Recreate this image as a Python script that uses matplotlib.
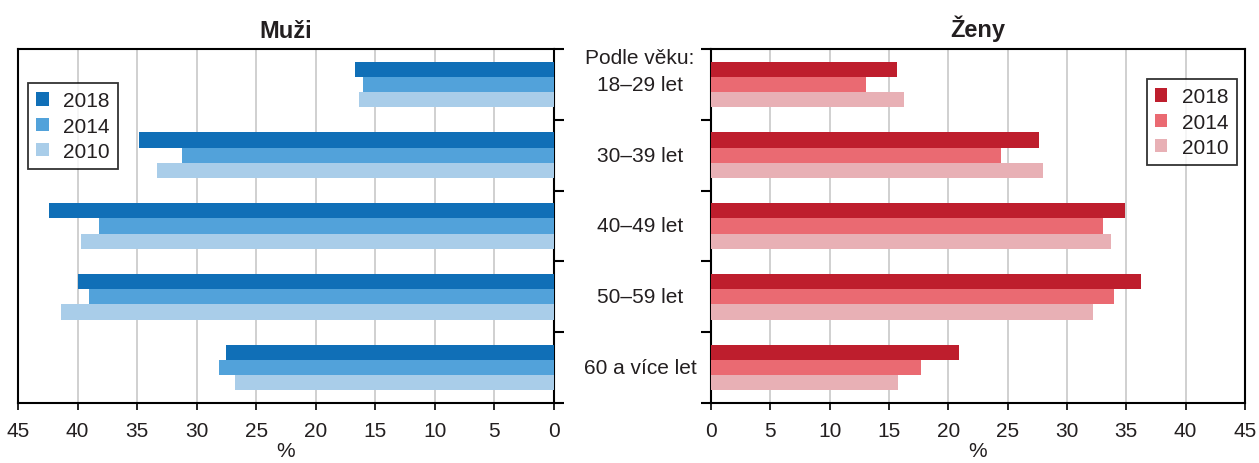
import matplotlib

matplotlib.use("Agg")

import matplotlib.pyplot as plt
import matplotlib.transforms as mtransforms
import numpy as np

plt.rcParams["font.family"] = ["Liberation Sans", "DejaVu Sans"]

categories = ["18–29 let", "30–39 let", "40–49 let", "50–59 let", "60 a více let"]
years = ["2018", "2014", "2010"]

muzi_2018 = [16.7, 34.8, 42.4, 40.0, 27.5]
muzi_2014 = [16.0, 31.2, 38.2, 39.0, 28.1]
muzi_2010 = [16.4, 33.3, 39.7, 41.4, 26.8]

zeny_2018 = [15.7, 27.6, 34.9, 36.2, 20.9]
zeny_2014 = [13.1, 24.4, 33.0, 34.0, 17.7]
zeny_2010 = [16.3, 28.0, 33.7, 32.2, 15.8]

blue = ["#106fb7", "#52a2da", "#a9cde9"]
red = ["#be1e2d", "#ea6a72", "#e8b0b5"]
txt = "#231f20"

fig = plt.figure(figsize=(12.59, 4.64), dpi=100)
ax1 = fig.add_axes([18 / 1259, 60 / 464, 536 / 1259, 354 / 464])
ax2 = fig.add_axes([711 / 1259, 60 / 464, 534 / 1259, 354 / 464])

pos = np.arange(len(categories))
h = 0.215


def draw(ax, series, colors, side):
    for i, (vals, col) in enumerate(zip(series, colors)):
        ax.barh(pos + (i - 1) * h, vals, height=h, color=col, label=years[i],
                zorder=3)
    ax.set_xlim(0, 45)
    ax.set_ylim(4.5, -0.5)
    ax.set_xticks(np.arange(0, 46, 5))
    ax.grid(axis="x", color="#c8c8c8", linewidth=1.2, zorder=0)
    ax.set_yticks([-0.5, 0.5, 1.5, 2.5, 3.5, 4.5])
    ax.set_yticklabels([])
    ax.tick_params(axis="y", direction="out", length=7, width=1.5,
                   left=(side == "left"), right=(side == "right"))
    ax.tick_params(axis="x", direction="out", length=5, width=1.2,
                   labelsize=15, pad=8, labelcolor=txt)
    ax.set_xlabel("%", fontsize=15, labelpad=1, color=txt)
    for s in ax.spines.values():
        s.set_linewidth(1.5)
        s.set_color("black")
    leg = ax.legend(loc="upper left" if side == "right" else "upper right",
                    fontsize=15, frameon=True, fancybox=False,
                    handlelength=0.6, handleheight=0.6, handletextpad=0.7,
                    labelspacing=0.3, borderpad=0.4, borderaxespad=0.0)
    leg.get_frame().set_edgecolor("black")
    leg.get_frame().set_linewidth(1.3)
    for t in leg.get_texts():
        t.set_color(txt)
    return leg


leg1 = draw(ax1, [muzi_2018, muzi_2014, muzi_2010], blue, "right")
ax1.set_xlim(45, 0)
leg1.set_bbox_to_anchor((10 / 536, 1 - 34 / 354), transform=ax1.transAxes)

leg2 = draw(ax2, [zeny_2018, zeny_2014, zeny_2010], red, "left")
leg2.set_loc("upper right")
leg2.set_bbox_to_anchor((1 - 8 / 534, 1 - 30 / 354), transform=ax2.transAxes)

ax1.set_title("Muži", fontsize=17, fontweight="bold", pad=9, color=txt)
ax2.set_title("Ženy", fontsize=17, fontweight="bold", pad=9, color=txt)

tr = mtransforms.blended_transform_factory(fig.transFigure, ax1.transData)
mid = 640 / 1259
for p, lab in zip(pos, categories):
    fig.text(mid, p, lab, transform=tr, ha="center", va="center",
             fontsize=15, color=txt)
fig.text(mid, pos[0] - 0.38, "Podle věku:", transform=tr, ha="center",
         va="center", fontsize=15, color=txt)

fig.savefig("out.png", dpi=100)
